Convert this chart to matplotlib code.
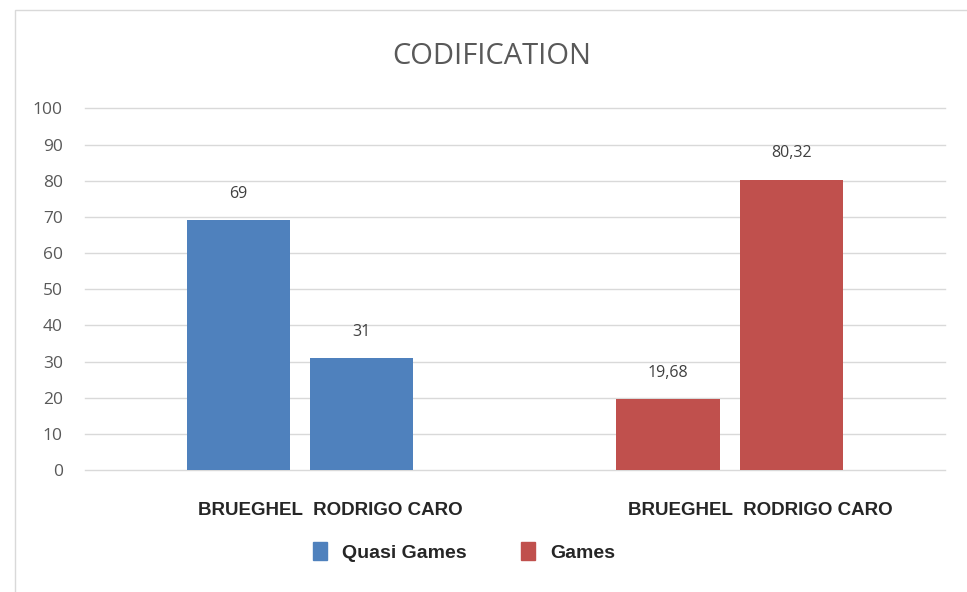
import matplotlib.pyplot as plt
import matplotlib.patches as mpatches
import numpy as np

# data
groups = ["Quasi Games", "Games"]
authors = ["BRUEGHEL", "RODRIGO CARO"]
brueghel_vals = [69, 19.68]
caro_vals = [31, 80.32]
value_labels = [["69", "31"], ["19,68", "80,32"]]
group_colors = ["#4F81BD", "#C0504D"]
yticks = list(range(0, 101, 10))

fig = plt.figure(figsize=(9.67, 5.92), dpi=100)
ax = fig.add_axes([0.088, 0.206, 0.889, 0.611])

# faint chart frame (left and top edge)
fig.patches.append(mpatches.Rectangle((0.016, -0.1), 1.2, 1.083, transform=fig.transFigure,
                                      fill=False, edgecolor="#d9d9d9", linewidth=1.0))

x = np.arange(len(groups))
offset = 0.144
width = 0.24
for i in range(len(groups)):
    vals = [brueghel_vals[i], caro_vals[i]]
    for j, v in enumerate(vals):
        xpos = x[i] + (j * 2 - 1) * offset
        ax.bar(xpos, v, width=width, color=group_colors[i], zorder=3)
        ax.text(xpos, v + 5, value_labels[i][j], ha="center", va="bottom",
                fontsize=11.5, color="#404040", family="Open Sans")

ax.set_xlim(-0.5, 1.5)
ax.set_ylim(0, 100)
ax.set_yticks(yticks)
ax.set_yticklabels([str(t) for t in yticks], fontsize=12.5, color="#595959", family="Open Sans")
ax.tick_params(axis="y", length=0, pad=16)
ax.grid(axis="y", color="#d9d9d9", linewidth=1.0, zorder=0)
for gl in ax.get_ygridlines():
    gl.set_clip_on(False)
for s in ax.spines.values():
    s.set_visible(False)

# category labels under each group
ax.set_xticks(x + 0.07)
ax.set_xticklabels(["  ".join(authors)] * len(groups), fontsize=13.5, fontweight="bold",
                   color="#262626", family="Liberation Sans")
ax.tick_params(axis="x", length=0, pad=23)

fig.text(0.509, 0.905, "CODIFICATION", ha="center", va="center", fontsize=21,
         color="#595959", family="Open Sans")

handles = [mpatches.Patch(color=c, label=g) for g, c in zip(groups, group_colors)]
leg = fig.legend(handles=handles, loc="center", bbox_to_anchor=(0.48, 0.068), ncol=2,
                 frameon=False, handlelength=0.7, handleheight=1.1, columnspacing=2.8,
                 prop={"family": "Liberation Sans", "weight": "bold", "size": 14})
for t in leg.get_texts():
    t.set_color("#262626")

fig.savefig("out.png", dpi=100, facecolor="white")
